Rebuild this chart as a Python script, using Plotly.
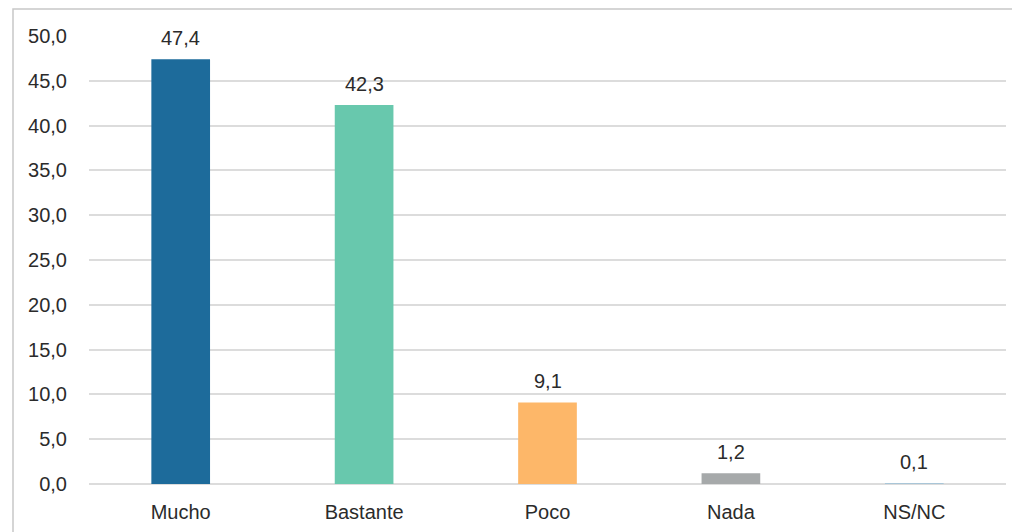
import plotly.graph_objects as go

categories = ["Mucho", "Bastante", "Poco", "Nada", "NS/NC"]
values = [47.4, 42.3, 9.1, 1.2, 0.1]
colors = ["#1d6b9b", "#68c8ad", "#fdb769", "#a6a9aa", "#a9c6d8"]
tick_vals = [0, 5, 10, 15, 20, 25, 30, 35, 40, 45, 50]

# page body has an 8px margin, so the figure is offset by (8, 8)
W, H = 1012, 524
L, R, T, B = 81, 14, 28, 48
pw, ph = W - L - R, H - T - B
FONT = "Liberation Sans, Arial, Helvetica, sans-serif"
TXT = "#2b2b2b"

fig = go.Figure()
fig.add_trace(go.Bar(
    x=categories, y=values,
    marker=dict(color=colors, line=dict(width=0)),
    width=0.32,
))

for c, v in zip(categories, values):
    fig.add_annotation(x=c, y=v, text=f"{v:.1f}".replace(".", ","),
                       showarrow=False, yanchor="bottom", yshift=8,
                       font=dict(size=20, color=TXT, family=FONT))

fig.update_layout(
    width=W, height=H,
    margin=dict(l=L, r=R, t=T, b=B, autoexpand=False),
    paper_bgcolor="white", plot_bgcolor="white",
    separators=",.",
    showlegend=False,
    font=dict(family=FONT, size=20, color=TXT),
    xaxis=dict(showgrid=False, showline=False, ticks="", tickfont=dict(size=20),
               ticklabelstandoff=14, automargin=False),
    yaxis=dict(range=[0, 50], tickvals=tick_vals, tickformat=".1f",
               showgrid=True, gridcolor="#dcdcdc", gridwidth=1.5,
               zeroline=True, zerolinecolor="#dcdcdc", zerolinewidth=1.5,
               showline=False, ticks="", ticklabelstandoff=21, automargin=False,
               tickfont=dict(size=20)),
    shapes=[dict(type="rect", xref="paper", yref="paper",
                 x0=(5 - L) / pw, x1=1.2, y0=-0.3, y1=1 + (T - 1) / ph,
                 line=dict(color="#c8c8c8", width=1.5), fillcolor="rgba(0,0,0,0)",
                 layer="below")],
)

fig.write_html("out.html")
